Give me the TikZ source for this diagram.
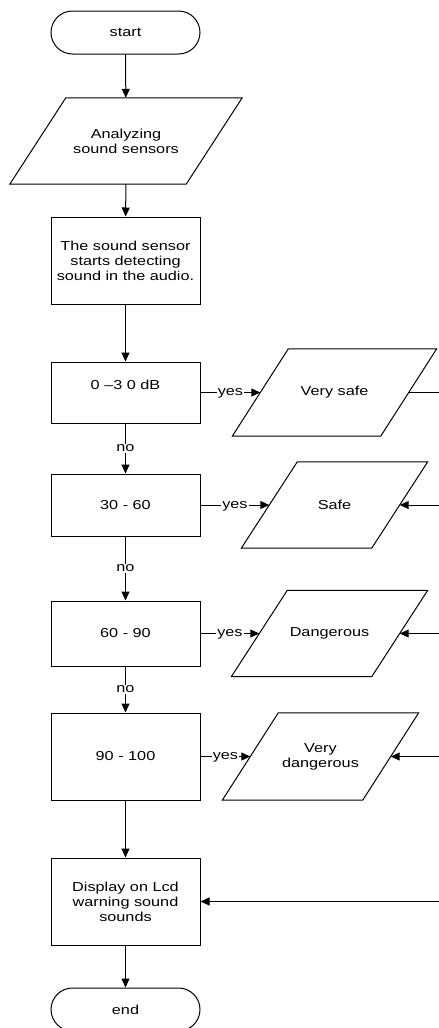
\documentclass[tikz,border=0pt]{standalone}
\usepackage{fontspec}
\setmainfont{Liberation Sans}[FakeStretch=1.25]
\usetikzlibrary{arrows.meta,shapes.misc}
\newcommand\paradraw[1]{%
  \draw[plain] ([xshift=28pt]#1.north west) -- ([xshift=28pt]#1.north east)
    -- ([xshift=-28pt]#1.south east) -- ([xshift=-28pt]#1.south west) -- cycle;}
\begin{document}
\begin{tikzpicture}[x=1pt,y=-1pt,
  every node/.style={font=\fontsize{13}{15}\selectfont},
  base/.style={draw, line width=1pt, inner sep=0pt, align=center},
  term/.style={base, rounded rectangle, minimum width=149pt, minimum height=43pt},
  proc/.style={base, rectangle, minimum width=149pt},
  para/.style={rectangle, inner sep=0pt, align=center, minimum height=86pt, minimum width=#1},
  flow/.style={line width=1pt, -{Triangle[length=9pt,width=8pt]}},
  plain/.style={line width=1pt},
  lab/.style={fill=white, inner xsep=1pt, inner ysep=1.5pt, text height=6.8pt, text depth=0pt}
]
\useasboundingbox (0,0) rectangle (439,1028);
\fill[white] (0,0) rectangle (439,1028);

\node[term] (start) at (125.5,32.5) {start};
\node[para=176pt] (p1) at (126,141) {Analyzing\\sound sensors};
\node[proc, minimum height=87pt] (b2) at (125.5,260.5) {The sound sensor\\starts detecting\\sound in the audio.};
\node[proc, minimum height=61pt] (b3) at (125.5,392.5) {\raisebox{7.5pt}[\height][\depth]{0 –3 0 dB}};
\node[para=148pt, minimum height=87pt] (vs) at (334.5,392.5) {Very safe};
\node[proc, minimum height=62pt] (b4) at (125.5,505) {30 - 60};
\node[para=130pt] (sf) at (334.5,505) {Safe};
\node[proc, minimum height=65pt] (b5) at (125.5,633.5) {60 - 90};
\node[para=140pt] (dg) at (329.5,633.5) {Dangerous};
\node[proc, minimum height=87pt] (b6) at (125.5,756.5) {90 - 100};
\node[para=140pt, minimum height=87pt] (vd) at (320.5,756.5) {Very\\dangerous};
\node[proc, minimum height=87pt] (b7) at (125.5,901.5) {Display on Lcd\\warning sound\\sounds};
\node[term] (end) at (125.5,1009.5) {end};

\paradraw{p1}
\paradraw{vs}
\paradraw{sf}
\paradraw{dg}
\paradraw{vd}

\coordinate (r1) at (445,392.5);
\coordinate (r2) at (445,505);
\coordinate (r3) at (445,633.5);
\coordinate (r4) at (445,756.5);
\coordinate (r5) at (445,901.5);

\draw[flow] (start) -- (p1);
\draw[flow] (p1) -- (b2);
\draw[flow] (b2) -- (b3);
\draw[flow] (b3) -- node[lab]{yes} (vs);
\draw[flow] (b3) -- node[lab]{no} (b4);
\draw[flow] (b4) -- node[lab]{yes} (sf);
\draw[flow] (b4) -- node[lab]{no} (b5);
\draw[flow] (b5) -- node[lab]{yes} (dg);
\draw[flow] (b5) -- node[lab]{no} (b6);
\draw[flow] (b6) -- node[lab]{yes} (vd);
\draw[flow] (b6) -- (b7);
\draw[flow] (b7) -- (end);

\draw[plain] (vs) -- (r1);
\draw[flow] (r2) -- (sf);
\draw[flow] (r3) -- (dg);
\draw[flow] (r4) -- (vd);
\draw[flow] (r5) -- (b7);
\end{tikzpicture}
\end{document}
